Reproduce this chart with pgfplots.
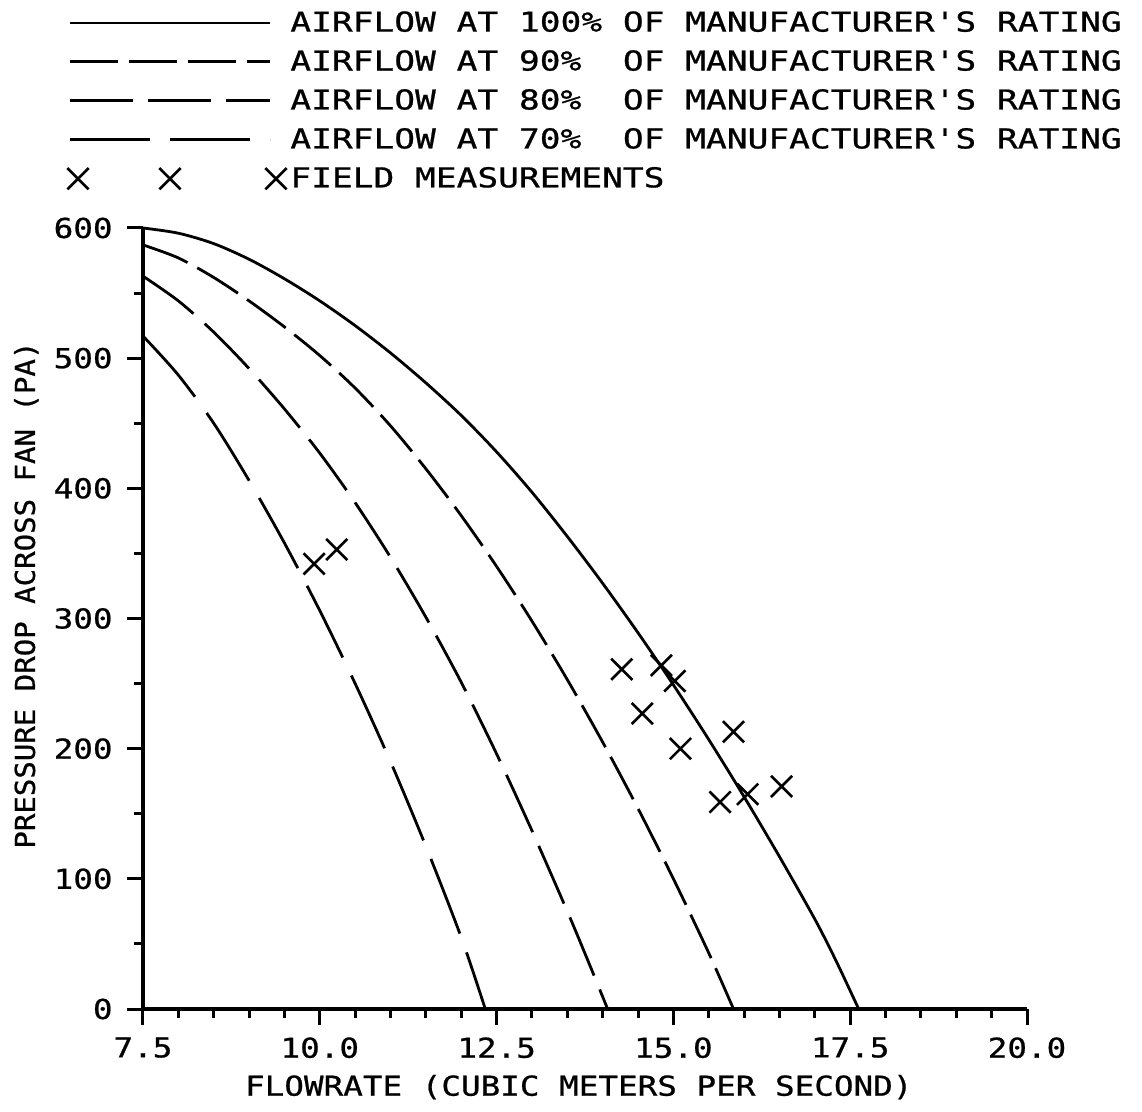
\documentclass[border=0pt]{standalone}
\usepackage{fontspec}
\usepackage{pgfplots}
\pgfplotsset{compat=1.18}
\newfontfamily\lgfont[FakeStretch=1.26,FakeBold=0.8]{DejaVu Sans Mono}
\newfontfamily\xlfont[FakeStretch=1.19,FakeBold=0.8]{DejaVu Sans Mono}
\newfontfamily\ylfont[FakeStretch=1.06,FakeBold=0.8]{DejaVu Sans Mono}
\newfontfamily\tkfont[FakeStretch=1.19,FakeBold=0.8]{DejaVu Sans Mono}
\pgfplotsset{
  xmarklegend/.style={legend image code/.code={%
    \draw[##1, /tikz/only marks] plot coordinates {(4pt,0pt) (50pt,0pt)};
    \draw[##1, /tikz/only marks, overlay] plot coordinates {(103pt,0pt)};}},
  linelegend/.style={legend image code/.code={\draw[##1] (0pt,0pt) -- (100pt,0pt);}},
}
\begin{document}
\begin{tikzpicture}
\useasboundingbox (0,0) rectangle (571pt,-556pt);
\begin{axis}[
  at={(71.5pt,-504.5pt)}, anchor=south west,
  scale only axis, width=442pt, height=390.5pt,
  xmin=7.5, xmax=20, ymin=0, ymax=600,
  clip=false,
  axis lines=left, axis line style={-, line width=2pt},
  xtick={7.5,10,12.5,15,17.5,20},
  xticklabels={7.5,10.0,12.5,15.0,17.5,20.0},
  minor x tick num=4,
  ytick={0,100,200,300,400,500,600},
  yticklabels={0,100,200,300,400,500,600},
  minor y tick num=1,
  tick align=outside, major tick length=8pt, minor tick length=4.5pt,
  tick style={black, line width=1.5pt},
  xticklabel style={font=\tkfont\fontsize{13.7}{16}\selectfont, inner sep=0pt, anchor=north, yshift=-6pt},
  yticklabel style={font=\tkfont\fontsize{13.7}{16}\selectfont, inner sep=0pt, anchor=east, xshift=-7pt},
  xlabel={FLOWRATE (CUBIC METERS PER SECOND)},
  ylabel={PRESSURE DROP ACROSS FAN (PA)},
  every axis x label/.style={at={(axis description cs:0.493,-0.1)}, anchor=center, inner sep=0pt, font=\xlfont\fontsize{13.7}{16}\selectfont},
  every axis y label/.style={at={(axis description cs:-0.132,0.53)}, rotate=90, anchor=center, inner sep=0pt, font=\ylfont\fontsize{13.7}{16}\selectfont},
  legend style={at={(axis description cs:-0.086,1.278)}, anchor=north west, draw=none, fill=none, inner sep=0pt, row sep=7.8pt, column sep=9.5pt, font=\lgfont\fontsize{13.7}{16}\selectfont, cells={anchor=west}, nodes={inner sep=0pt}},
  linelegend,
]
\addplot[black, line width=1.4pt, smooth] coordinates {
(7.5,600) (8.0,596) (8.5,588) (9.0,576) (9.5,561) (10.0,544) (10.5,525) (11.0,504) (11.5,481) (12.0,456) (12.5,428) (13.0,397) (13.5,363) (14.0,327) (14.5,289) (15.0,249) (15.5,207) (16.0,163) (16.5,117) (17.0,69) (17.3,37) (17.62,0)};
\addlegendentry{AIRFLOW AT 100\% OF MANUFACTURER'S RATING}
\addplot[black, line width=1.4pt, smooth, dash pattern=on 24pt off 5.5pt] coordinates {
(7.5,587) (8.0,577) (8.5,562) (9.0,544) (9.5,524) (10.0,502) (10.5,477) (11.0,448) (11.5,415) (12.0,379) (12.5,340) (13.0,298) (13.5,253) (14.0,205) (14.5,154) (15.0,100) (15.5,43) (15.85,0)};
\addlegendentry{AIRFLOW AT 90\%\ \ OF MANUFACTURER'S RATING}
\addplot[black, line width=1.4pt, smooth, dash pattern=on 31.5pt off 7.5pt] coordinates {
(7.5,563) (8.0,544) (8.5,520) (9.0,492) (9.5,461) (10.0,427) (10.5,389) (11.0,347) (11.5,301) (12.0,251) (12.5,196) (13.0,137) (13.5,75) (13.8,36) (14.07,0)};
\addlegendentry{AIRFLOW AT 80\%\ \ OF MANUFACTURER'S RATING}
\addplot[black, line width=1.4pt, smooth, dash pattern=on 40pt off 10pt] coordinates {
(7.5,517) (8.0,487) (8.5,450) (9.0,406) (9.5,358) (10.0,306) (10.5,250) (11.0,190) (11.5,125) (12.0,55) (12.34,0)};
\addlegendentry{AIRFLOW AT 70\%\ \ OF MANUFACTURER'S RATING}
\addplot[black, only marks, mark=x, mark size=7.5pt, mark options={line width=1.3pt}, xmarklegend] coordinates {
(9.92,342) (10.24,353) (14.27,261) (14.83,264) (15.02,252) (14.56,227) (15.1,200) (15.85,213) (15.66,159) (16.05,165) (16.53,171)};
\addlegendentry{FIELD MEASUREMENTS}
\end{axis}
\end{tikzpicture}
\end{document}
